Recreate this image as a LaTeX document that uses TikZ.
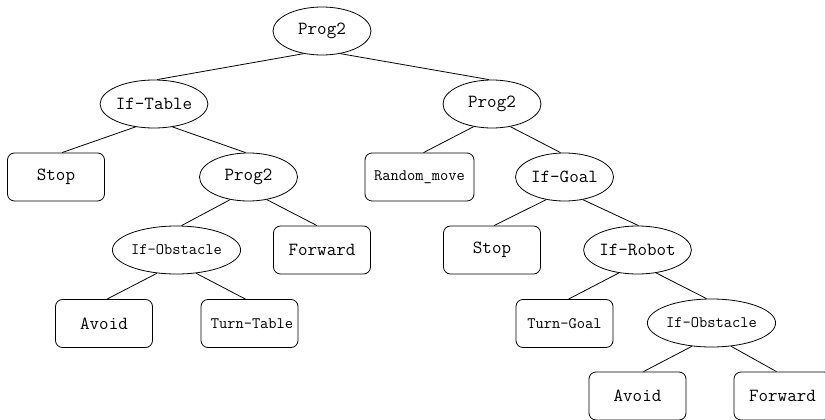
\documentclass[tikz,border=0pt]{standalone}
\usepackage{fontspec}
\usetikzlibrary{shapes.geometric}
\tikzset{
  treeline/.style={line width=0.8pt, black},
  ell/.style={ellipse, draw, line width=0.8pt, minimum width=98pt, minimum height=48pt, inner sep=0pt, font=\ttfamily\fontsize{18.5}{20}\selectfont},
  ellsmall/.style={ell, minimum width=110pt, font=\ttfamily\fontsize{16}{18}\selectfont},
  leafbox/.style={rectangle, draw, rounded corners=7pt, line width=0.8pt, minimum width=97pt, minimum height=48pt, inner sep=0pt, font=\ttfamily\fontsize{18.5}{20}\selectfont},
  leafsmall/.style={leafbox, font=\ttfamily\fontsize{16}{18}\selectfont},
}
\begin{document}
\begin{tikzpicture}[x=1pt,y=-1pt]
\clip (0,0) rectangle (825,420);
\fill[white] (0,0) rectangle (825,420);
% nodes
\node[ell] (root) at (322,31) {Prog2};
\node[ell] (iftable) at (154,104) {If-Table};
\node[ell] (prog2R) at (492,104) {Prog2};
\node[leafbox] (stopL) at (56,177) {Stop};
\node[ell] (prog2L) at (248.5,177) {Prog2};
\node[leafsmall, minimum width=109pt] (random) at (419.5,177) {Random\_move};
\node[ell] (ifgoal) at (564.5,177) {If-Goal};
\node[ellsmall] (ifobsL) at (176.5,250) {If-Obstacle};
\node[leafbox] (fwdL) at (322,250) {Forward};
\node[leafbox] (stopR) at (492,250) {Stop};
\node[ell] (ifrobot) at (637.5,250) {If-Robot};
\node[leafbox] (avoidL) at (104,323.5) {Avoid};
\node[leafsmall] (turntable) at (249.5,323.5) {\hspace{5pt}Turn-Table};
\node[leafsmall] (turngoal) at (564.5,323.5) {Turn-Goal};
\node[ellsmall] (ifobsR) at (711.5,323) {If-Obstacle};
\node[leafbox] (avoidR) at (637.5,396) {Avoid};
\node[leafbox] (fwdR) at (782.5,396) {Forward};
% connectors
\draw[treeline] (root.231) -- ([xshift=3pt]iftable.north);
\draw[treeline] (root.309) -- ([xshift=-3pt]prog2R.north);
\draw[treeline] (iftable.231) -- ([xshift=6pt]stopL.north);
\draw[treeline] (iftable.309) -- ([xshift=-3pt]prog2L.north);
\draw[treeline] (prog2R.231) -- ([xshift=4pt]random.north);
\draw[treeline] (prog2R.309) -- ([xshift=-4pt]ifgoal.north);
\draw[treeline] (prog2L.231) -- ([xshift=5pt]ifobsL.north);
\draw[treeline] (prog2L.309) -- ([xshift=-5pt]fwdL.north);
\draw[treeline] (ifobsL.230) -- ([xshift=3pt]avoidL.north);
\draw[treeline] (ifobsL.310) -- ([xshift=-4pt]turntable.north);
\draw[treeline] (ifgoal.231) -- ([xshift=2pt]stopR.north);
\draw[treeline] (ifgoal.309) -- ([xshift=1pt]ifrobot.north);
\draw[treeline] (ifrobot.231) -- ([xshift=4pt]turngoal.north);
\draw[treeline] (ifrobot.309) -- ([xshift=-5pt]ifobsR.north);
\draw[treeline] (ifobsR.230) -- ([xshift=6pt]avoidR.north);
\draw[treeline] (ifobsR.310) -- ([xshift=-6pt]fwdR.north);
\end{tikzpicture}
\end{document}
